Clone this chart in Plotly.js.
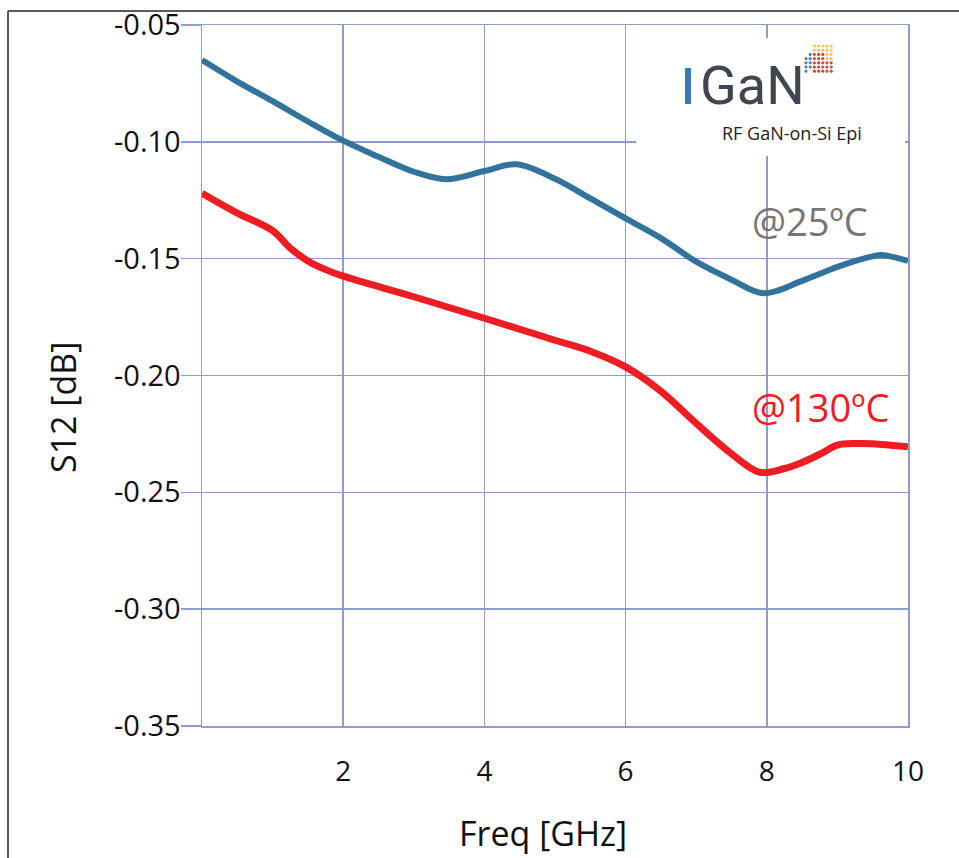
<!DOCTYPE html>
<html><head><meta charset="utf-8">
<script src="https://cdn.plot.ly/plotly-3.0.1.min.js"></script>
<style>html,body{margin:0;padding:0;background:#fff}#chart{width:959px;height:858px}</style>
</head><body><div id="chart"></div>
<script>
// ---- data ----
const freqBlue = [0, 0.5, 1, 1.5, 2, 2.5, 3, 3.46, 4, 4.45, 5, 5.5, 6, 6.5, 7, 7.5, 7.95, 8.5, 9, 9.5, 9.65, 10];
const s12At25 = [-0.065, -0.0742, -0.0826, -0.0913, -0.0995, -0.1064, -0.1128, -0.116, -0.1125, -0.1096, -0.1158, -0.1242, -0.1328, -0.1412, -0.1513, -0.159, -0.1648, -0.1595, -0.1535, -0.149, -0.1485, -0.151];
const freqRed = [0, 0.5, 1, 1.25, 1.5, 1.75, 2, 3, 4, 5, 5.5, 6, 6.5, 7, 7.5, 7.9, 8.25, 8.5, 8.75, 9, 9.25, 9.5, 10];
const s12At130 = [-0.122, -0.1305, -0.138, -0.1455, -0.151, -0.1547, -0.1575, -0.1663, -0.1755, -0.1849, -0.1896, -0.1963, -0.2067, -0.2205, -0.2335, -0.2414, -0.2398, -0.2372, -0.2337, -0.2298, -0.2291, -0.2292, -0.2305];
const yTickVals = [-0.05, -0.10, -0.15, -0.20, -0.25, -0.30, -0.35];
const yTickText = ["-0.05", "-0.10", "-0.15", "-0.20", "-0.25", "-0.30", "-0.35"];
const xTickVals = [2, 4, 6, 8, 10];
const xTickText = ["2", "4", "6", "8", "10"];
const seriesLabels = ["@25ºC", "@130ºC"];
const xTitle = "Freq [GHz]";
const yTitle = "S12 [dB]";

// ---- layout helpers ----
const W = 959, H = 858, M = {l: 202, r: 51, t: 25, b: 132};
const pw = W - M.l - M.r, ph = H - M.t - M.b;
const px = v => (v - M.l) / pw;
const py = v => (H - M.b - v) / ph;
const FONT = '"Open Sans", "Noto Sans", sans-serif';
const LOGO_FONT = 'Roboto, "Open Sans", sans-serif';
const GRID = '#8d9cc8';

const traces = [
  {x: freqBlue, y: s12At25, type: 'scatter', mode: 'lines', name: seriesLabels[0],
   line: {color: '#31739c', width: 6, shape: 'spline', smoothing: 1}, hoverinfo: 'skip'},
  {x: freqRed, y: s12At130, type: 'scatter', mode: 'lines', name: seriesLabels[1],
   line: {color: '#ee1d23', width: 7, shape: 'spline', smoothing: 1}, hoverinfo: 'skip'}
];

const shapes = [
  // white box behind logo
  {type: 'rect', xref: 'paper', yref: 'paper', x0: px(636), x1: px(905), y0: py(156), y1: py(38),
   fillcolor: '#ffffff', line: {width: 0}, layer: 'above'},
  // blue bar of logo "I"
  {type: 'rect', xref: 'paper', yref: 'paper', x0: px(685), x1: px(691), y0: py(104), y1: py(68),
   fillcolor: '#3b79b3', line: {width: 0}, layer: 'above'},
  // outer frame
  {type: 'line', xref: 'paper', yref: 'paper', x0: px(8), x1: px(8), y0: py(11), y1: py(860),
   line: {color: '#5a5a5a', width: 2}},
  {type: 'line', xref: 'paper', yref: 'paper', x0: px(8), x1: px(962), y0: py(11), y1: py(11),
   line: {color: '#5a5a5a', width: 2}}
];

// small dot-matrix icon of the logo (decoration)
const iconRows = [
  '..YYYYY',
  '..YYYYY',
  '.BRRRYY',
  'BBRRRYY',
  'BBRRRRR',
  'BBRRRRR',
  'B.RRRRR'
];
const iconCol = {Y: '#f3c460', R: '#c0503f', B: '#4f7fae'};
iconRows.forEach((row, r) => {
  [...row].forEach((c, k) => {
    if (c === '.') return;
    const cx = 806 + k * 4.2, cy = 46 + r * 4.2;
    shapes.push({type: 'circle', xref: 'paper', yref: 'paper',
      x0: px(cx - 1.6), x1: px(cx + 1.6), y0: py(cy + 1.6), y1: py(cy - 1.6),
      fillcolor: iconCol[c], line: {width: 0}, layer: 'above'});
  });
});

const annotations = [
  {xref: 'paper', yref: 'paper', x: px(752), y: py(86), text: 'GaN', showarrow: false,
   xanchor: 'center', yanchor: 'middle', font: {family: LOGO_FONT, size: 54, color: '#3f4650'}},
  {xref: 'paper', yref: 'paper', x: px(792), y: py(133), text: 'RF GaN-on-Si Epi', showarrow: false,
   xanchor: 'center', yanchor: 'middle', font: {family: FONT, size: 18, color: '#222222'}},
  {xref: 'paper', yref: 'paper', x: px(810), y: py(221), text: seriesLabels[0], showarrow: false,
   xanchor: 'center', yanchor: 'middle', font: {family: FONT, size: 38, color: '#7a7472'}},
  {xref: 'paper', yref: 'paper', x: px(820), y: py(407), text: seriesLabels[1], showarrow: false,
   xanchor: 'center', yanchor: 'middle', font: {family: FONT, size: 38, color: '#ee1d23'}},
  // axis titles
  {xref: 'paper', yref: 'paper', x: px(543), y: py(833), text: xTitle, showarrow: false,
   xanchor: 'center', yanchor: 'middle', font: {family: FONT, size: 34, color: '#111111'}},
  {xref: 'paper', yref: 'paper', x: px(63), y: py(408), text: yTitle, showarrow: false, textangle: -90,
   xanchor: 'center', yanchor: 'middle', font: {family: FONT, size: 34, color: '#111111'}}
];

const layout = {
  width: W, height: H,
  margin: M,
  paper_bgcolor: '#ffffff', plot_bgcolor: '#ffffff',
  showlegend: false,
  font: {family: FONT, color: '#111111'},
  xaxis: {
    range: [0, 10], tickvals: xTickVals, ticktext: xTickText,
    showgrid: true, gridcolor: GRID, gridwidth: 1.5,
    showline: true, linecolor: GRID, linewidth: 1.5, mirror: true,
    zeroline: false, ticks: '', ticklabelstandoff: 20,
    tickfont: {family: FONT, size: 28, color: '#111111'}
  },
  yaxis: {
    range: [-0.35, -0.05], tickvals: yTickVals, ticktext: yTickText,
    showgrid: true, gridcolor: GRID, gridwidth: 1.5,
    showline: true, linecolor: GRID, linewidth: 1.5, mirror: true,
    zeroline: false, ticks: 'outside', ticklen: 20, tickcolor: GRID, tickwidth: 1.5,
    ticklabelstandoff: -6,
    tickfont: {family: FONT, size: 29, color: '#111111'}
  },
  shapes: shapes,
  annotations: annotations
};

Plotly.newPlot('chart', traces, layout, {staticPlot: true, displayModeBar: false});
</script>
</body></html>
